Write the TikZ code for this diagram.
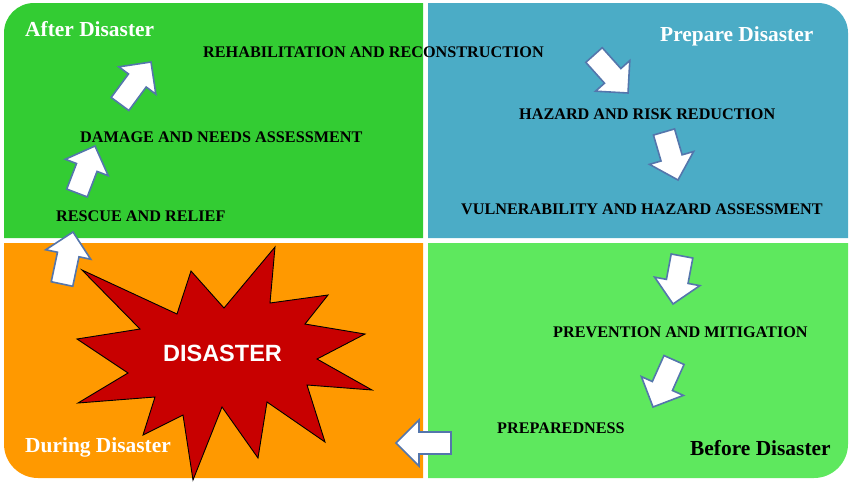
\documentclass[tikz,border=0pt]{standalone}
\usepackage{fontspec}
\setmainfont{Liberation Serif}
\newfontfamily\fontarial{Liberation Sans}
\usetikzlibrary{calc,backgrounds}
\definecolor{verdeinchis}{RGB}{51,204,51}
\definecolor{albastru}{RGB}{75,172,198}
\definecolor{portocaliu}{RGB}{255,153,0}
\definecolor{verdedeschis}{RGB}{94,232,94}
\definecolor{rosu}{RGB}{200,0,0}
\definecolor{contur}{RGB}{84,118,172}
\tikzset{
  titlu/.style       = {font=\bfseries\fontsize{21.4}{25}\selectfont, inner sep=0pt, anchor=base west},
  eticheta/.style    = {font=\bfseries\fontsize{16.2}{19}\selectfont, inner sep=0pt, anchor=base west},
  sageatabloc/.style = {fill=white, draw=contur, line width=1.6pt, line join=miter},
  stea/.style        = {fill=rosu, draw=black, line width=0.9pt, line join=miter}
}
% block arrow from tail #1 to tip #2
\newcommand{\sageatagroasa}[2]{%
  \draw[sageatabloc] ($(#1)!11pt!90:(#2)$)
    -- ($(#2)!23pt!(#1)!11pt!90:(#2)$) -- ($(#2)!23pt!(#1)!23pt!90:(#2)$)
    -- (#2)
    -- ($(#2)!23pt!(#1)!23pt!-90:(#2)$) -- ($(#2)!23pt!(#1)!11pt!-90:(#2)$)
    -- ($(#1)!11pt!-90:(#2)$) -- cycle;}

\begin{document}
\begin{tikzpicture}[x=1pt, y=-1pt]
        \useasboundingbox (0,0) rectangle (850,482);

        % quadrants
        \begin{scope}[on background layer]
            \fill[verdeinchis]  (423,238) -- (4,238) [rounded corners=30pt] -- (4,3) [sharp corners] -- (423,3) -- cycle;
            \fill[albastru]     (428,238) -- (428,3) [rounded corners=30pt] -- (848,3) [sharp corners] -- (848,238) -- cycle;
            \fill[portocaliu]   (423,243) -- (4,243) [rounded corners=34pt] -- (4,478) [sharp corners] -- (423,478) -- cycle;
            \fill[verdedeschis] (428,243) -- (428,478) [rounded corners=34pt] -- (848,478) [sharp corners] -- (848,243) -- cycle;
        \end{scope}

        \node[titlu, text=white] (dupa) at (25,36) {After Disaster};
        \node[titlu, text=white] (prep) at (660,41) {Prepare Disaster};
        \node[titlu, text=white] (timp) at (25,452) {During Disaster};
        \node[titlu] (inainte) at (690,455) {Before Disaster};

        \node[eticheta] (reab)  at (203,57)  {REHABILITATION AND RECONSTRUCTION};
        \node[eticheta] (hazr)  at (519,119) {HAZARD AND RISK REDUCTION};
        \node[eticheta] (vuln)  at (461,214) {VULNERABILITY AND HAZARD ASSESSMENT};
        \node[eticheta] (prev)  at (553,337) {PREVENTION AND MITIGATION};
        \node[eticheta] (pregt) at (497,433) {PREPAREDNESS};
        \node[eticheta] (salv)  at (56,221)  {RESCUE AND RELIEF};
        \node[eticheta] (evl)   at (80,142)  {DAMAGE AND NEEDS ASSESSMENT};

        % disaster star
        \draw[stea] (191,271) -- (224,308) -- (275,247) -- (270,303) -- (328,295) -- (305,324)
            -- (365,334) -- (317,359) -- (372,390) -- (307,385) -- (325,442) -- (267,402)
            -- (258,458) -- (222,407) -- (193,480) -- (183,415) -- (143,435) -- (155,397)
            -- (78,403) -- (128,373) -- (77,339) -- (140,329) -- (82,270) -- (177,314) -- cycle;
        \node[font=\fontarial\bfseries\fontsize{23.5}{27}\selectfont, text=white, inner sep=0pt]
            (dez) at (222.5,353.5) {DISASTER};

        % arrows
        \coordinate (s1) at (62,284);  \coordinate (v1) at (73,232);
        \coordinate (s2) at (77,193);  \coordinate (v2) at (95,146);
        \coordinate (s3) at (120,104); \coordinate (v3) at (151,62);
        \coordinate (s4) at (594,55);  \coordinate (v4) at (628,93);
        \coordinate (s5) at (664,132); \coordinate (v5) at (678,180);
        \coordinate (s6) at (682,256); \coordinate (v6) at (673,304);
        \coordinate (s7) at (674,360); \coordinate (v7) at (653,407);
        \coordinate (s8) at (451,443); \coordinate (v8) at (396,443);
        \foreach \i in {1,...,8}
            \sageatagroasa{s\i}{v\i};
    \end{tikzpicture}
\end{document}
